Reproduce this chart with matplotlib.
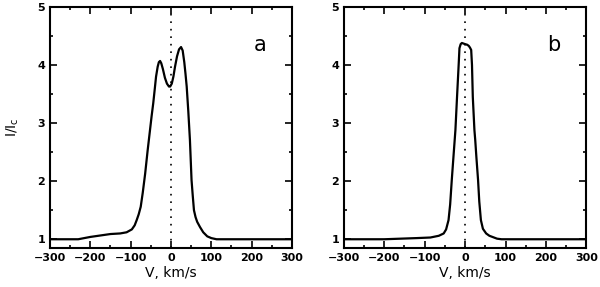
import matplotlib
matplotlib.use('Agg')
import matplotlib.pyplot as plt
from matplotlib.ticker import MultipleLocator

# ------------------------------------------------------------
# Profile data
# ------------------------------------------------------------
v_a = [-300, -230, -200, -150, -126, -110, -97, -90, -85, -80, -75, -70,
       -64, -58, -52, -48, -44, -40, -37, -33, -30, -27, -24, -20, -15, -10,
       -5, -2, 2, 6, 10, 15, 20, 25, 29, 33, 36, 39, 43, 47, 51, 54, 57, 61,
       65, 72, 80, 90, 100, 113, 300]
i_a = [1.00, 1.00, 1.04, 1.09, 1.10, 1.12, 1.17, 1.24, 1.33, 1.43, 1.56, 1.80,
       2.13, 2.52, 2.88, 3.12, 3.34, 3.60, 3.80, 3.97, 4.05, 4.07, 4.03, 3.93,
       3.78, 3.68, 3.63, 3.63, 3.68, 3.80, 3.97, 4.15, 4.27, 4.31, 4.25, 4.05,
       3.85, 3.63, 3.20, 2.71, 2.02, 1.75, 1.50, 1.38, 1.30, 1.21, 1.12, 1.05,
       1.02, 1.00, 1.00]

v_b = [-300, -200, -120, -86, -65, -53, -47, -41, -37, -33, -28, -24, -20,
       -16, -14, -11, -8, -4, 0, 5, 9, 12, 15, 17, 19, 23, 25, 28, 32, 35, 39,
       44, 52, 60, 79, 90, 300]
i_b = [1.00, 1.00, 1.02, 1.03, 1.06, 1.10, 1.17, 1.33, 1.60, 2.02, 2.50, 2.88,
       3.45, 4.00, 4.29, 4.36, 4.38, 4.37, 4.36, 4.35, 4.33, 4.30, 4.26, 4.00,
       3.45, 2.88, 2.71, 2.40, 2.02, 1.65, 1.33, 1.18, 1.10, 1.06, 1.01, 1.00,
       1.00]

panels = [('a', v_a, i_a), ('b', v_b, i_b)]

plt.rcParams['font.family'] = 'DejaVu Sans'

fig = plt.figure(figsize=(6.0, 2.87), dpi=100)
axes = [fig.add_axes([0.0833, 0.136, 0.4033, 0.8397]),
        fig.add_axes([0.573, 0.136, 0.4044, 0.8397])]

for ax, (tag, v, inten) in zip(axes, panels):
    ax.plot(v, inten, color='black', linewidth=1.6)
    ax.axvline(0, color='black', linewidth=1.2, linestyle=(0, (1, 3.5)))
    ax.set_xlim(-300, 300)
    ax.set_ylim(0.85, 5)
    ax.xaxis.set_major_locator(MultipleLocator(100))
    ax.xaxis.set_minor_locator(MultipleLocator(50))
    ax.yaxis.set_major_locator(MultipleLocator(1))
    ax.yaxis.set_minor_locator(MultipleLocator(0.5))
    ax.tick_params(which='both', direction='in', top=True, right=True,
                   width=1.2, labelsize=8)
    ax.tick_params(which='major', length=5)
    ax.tick_params(which='minor', length=2.5)
    for lab in ax.get_xticklabels() + ax.get_yticklabels():
        lab.set_fontweight('bold')
    for sp in ax.spines.values():
        sp.set_linewidth(1.5)
    ax.set_xlabel('V, km/s', fontsize=10, labelpad=2)
    ax.text(220, 4.35, tag, fontsize=15, ha='center', va='center')

axes[0].set_ylabel(r'I/I$_\mathregular{c}$', fontsize=10, labelpad=12)

fig.savefig('out.png', dpi=100)
